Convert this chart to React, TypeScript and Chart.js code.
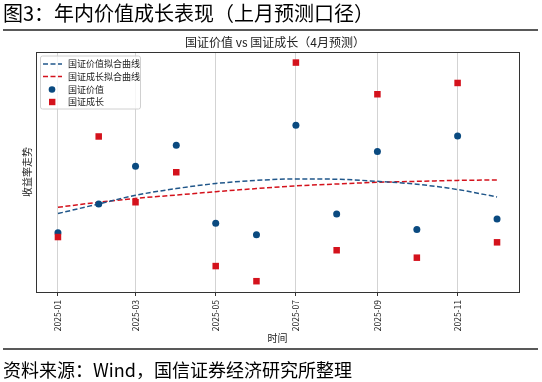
import React, { useEffect, useRef } from "react";
import { Chart, registerables } from "chart.js";

Chart.register(...registerables);

// ---- data ----
const months = [
  "2025-01", "2025-02", "2025-03", "2025-04", "2025-05", "2025-06",
  "2025-07", "2025-08", "2025-09", "2025-10", "2025-11", "2025-12",
];
const valueReturns = [-2.53, -1.33, 0.24, 1.11, -2.14, -2.61, 1.95, -1.75, 0.85, -2.4, 1.5, -1.96];
const growthReturns = [-2.71, 1.48, -1.26, -0.01, -3.92, -4.55, 4.56, -3.26, 3.24, -3.57, 3.71, -2.93];
const valueFit = [-1.73, -1.33, -0.97, -0.69, -0.48, -0.35, -0.29, -0.3, -0.39, -0.51, -0.73, -1.04];
const growthFit = [-1.47, -1.26, -1.1, -0.96, -0.82, -0.69, -0.58, -0.5, -0.43, -0.39, -0.35, -0.33];
const xTickLabels = ["2025-01", "2025-03", "2025-05", "2025-07", "2025-09", "2025-11"];
const seriesNames = ["国证价值拟合曲线", "国证成长拟合曲线", "国证价值", "国证成长"];

const TITLE = "图3：年内价值成长表现（上月预测口径）";
const SUBTITLE = "国证价值 vs 国证成长（4月预测）";
const SOURCE = "资料来源：Wind，国信证券经济研究所整理";
const X_LABEL = "时间";
const Y_LABEL = "收益率走势";

const BLUE_PT = "#0a4a80";
const BLUE_LN = "#21578a";
const RED = "#d4121c";
const FONT = '"Noto Sans CJK SC", "Noto Sans", sans-serif';

const DAY = 86400000;
const base = Date.UTC(2025, 0, 1);
const toDay = (m: string) => {
  const [y, mo] = m.split("-").map(Number);
  return (Date.UTC(y, mo - 1, 1) - base) / DAY;
};
const xs = months.map(toDay);
const tickValues = xTickLabels.map(toDay);

const pts = (arr: number[]) => arr.map((v, i) => ({ x: xs[i], y: v }));

const decor = {
  id: "decor",
  afterDraw(chart: any) {
    const ctx = chart.ctx as CanvasRenderingContext2D;
    const a = chart.chartArea;
    ctx.save();
    // frame
    ctx.strokeStyle = "#333";
    ctx.lineWidth = 1;
    ctx.strokeRect(Math.round(a.left) + 0.5, Math.round(a.top) + 0.5, Math.round(a.right - a.left), Math.round(a.bottom - a.top));

    // header title
    ctx.fillStyle = "#000";
    ctx.font = `20px ${FONT}`;
    ctx.textBaseline = "middle";
    ctx.textAlign = "left";
    ctx.fillText(TITLE, 3, 13);
    ctx.strokeStyle = "#222";
    ctx.lineWidth = 1.5;
    ctx.beginPath();
    ctx.moveTo(3, 30);
    ctx.lineTo(538, 30);
    ctx.stroke();

    // subtitle
    ctx.fillStyle = "#222";
    ctx.font = `12px ${FONT}`;
    ctx.textAlign = "center";
    ctx.fillText(SUBTITLE, 275, 42);

    // axis labels
    ctx.font = `10px ${FONT}`;
    ctx.fillText(X_LABEL, (a.left + a.right) / 2, 338);
    ctx.save();
    ctx.translate(27, (a.top + a.bottom) / 2);
    ctx.rotate(-Math.PI / 2);
    ctx.fillText(Y_LABEL, 0, 0);
    ctx.restore();

    // bottom rule and source
    ctx.strokeStyle = "#222";
    ctx.lineWidth = 1.5;
    ctx.beginPath();
    ctx.moveTo(3, 349);
    ctx.lineTo(538, 349);
    ctx.stroke();
    ctx.fillStyle = "#000";
    ctx.font = `18px ${FONT}`;
    ctx.textAlign = "left";
    ctx.fillText(SOURCE, 3, 370);

    // legend
    const lx = 40.5, ly = 56, lw = 100, lh = 53;
    ctx.beginPath();
    ctx.roundRect(lx, ly, lw, lh, 2);
    ctx.fillStyle = "rgba(255,255,255,0.8)";
    ctx.fill();
    ctx.strokeStyle = "#d0d0d0";
    ctx.lineWidth = 1;
    ctx.stroke();
    const rows = [64, 76.5, 89.5, 102];
    ctx.font = `9px ${FONT}`;
    ctx.textAlign = "left";
    ctx.textBaseline = "middle";
    const ds = chart.data.datasets;
    rows.forEach((ry, i) => {
      const d = ds[i];
      if (i < 2) {
        ctx.strokeStyle = d.borderColor;
        ctx.lineWidth = 1.5;
        ctx.setLineDash([5, 2.5]);
        ctx.beginPath();
        ctx.moveTo(43, ry);
        ctx.lineTo(62, ry);
        ctx.stroke();
        ctx.setLineDash([]);
      } else if (i === 2) {
        ctx.fillStyle = d.backgroundColor;
        ctx.beginPath();
        ctx.arc(52, ry, 3.3, 0, Math.PI * 2);
        ctx.fill();
      } else {
        ctx.fillStyle = d.backgroundColor;
        ctx.fillRect(49, ry - 3.2, 6.4, 6.4);
      }
      ctx.fillStyle = "#222";
      ctx.fillText(d.label, 68, ry);
    });
    ctx.restore();
  },
};

export default function App() {
  const ref = useRef<HTMLCanvasElement | null>(null);
  useEffect(() => {
    if (!ref.current) return;
    const chart = new Chart(ref.current, {
      type: "scatter",
      data: {
        datasets: [
          {
            type: "line",
            label: seriesNames[0],
            data: pts(valueFit),
            borderColor: BLUE_LN,
            backgroundColor: BLUE_LN,
            borderWidth: 1.5,
            borderDash: [5, 2.5],
            pointRadius: 0,
            showLine: true,
            fill: false,
            cubicInterpolationMode: "monotone",
            order: 3,
          } as any,
          {
            type: "line",
            label: seriesNames[1],
            data: pts(growthFit),
            borderColor: RED,
            backgroundColor: RED,
            borderWidth: 1.5,
            borderDash: [5, 2.5],
            pointRadius: 0,
            showLine: true,
            fill: false,
            cubicInterpolationMode: "monotone",
            order: 4,
          } as any,
          {
            label: seriesNames[2],
            data: pts(valueReturns),
            backgroundColor: BLUE_PT,
            borderColor: BLUE_PT,
            borderWidth: 0,
            pointStyle: "circle",
            pointRadius: 3.5,
            order: 2,
          },
          {
            label: seriesNames[3],
            data: pts(growthReturns),
            backgroundColor: RED,
            borderColor: RED,
            borderWidth: 0,
            pointStyle: "rect",
            pointRadius: 4.6,
            order: 1,
          },
        ],
      },
      options: {
        animation: false,
        responsive: false,
        devicePixelRatio: 1,
        layout: { padding: { left: 0, right: 23, top: 52, bottom: 0 } },
        plugins: {
          legend: { display: false },
          title: { display: false },
          tooltip: { enabled: false },
        },
        scales: {
          x: {
            type: "linear",
            min: -16.7,
            max: 350.7,
            afterBuildTicks: (scale: any) => {
              scale.ticks = tickValues.map((v) => ({ value: v }));
            },
            afterFit: (scale: any) => {
              scale.height = 90;
            },
            ticks: {
              autoSkip: false,
              minRotation: 90,
              maxRotation: 90,
              padding: 4,
              color: "#222",
              font: { family: FONT, size: 8.5 },
              callback: (v: any) => {
                const i = tickValues.indexOf(Number(v));
                return i >= 0 ? xTickLabels[i] : "";
              },
            },
            grid: {
              display: true,
              color: "#d3d3d3",
              lineWidth: 1,
              drawTicks: true,
              tickLength: 4,
              tickColor: "#333",
            },
            border: { display: false },
          },
          y: {
            min: -5,
            max: 5,
            afterFit: (scale: any) => {
              scale.width = 36;
            },
            ticks: { display: false },
            grid: { display: false },
            border: { display: false },
          },
        },
      },
      plugins: [decor],
    });
    return () => chart.destroy();
  }, []);

  return (
    <div style={{ position: "absolute", left: 0, top: 0, width: 542, height: 382, background: "#fff" }}>
      <canvas ref={ref} width={542} height={382} style={{ display: "block" }} />
    </div>
  );
}
